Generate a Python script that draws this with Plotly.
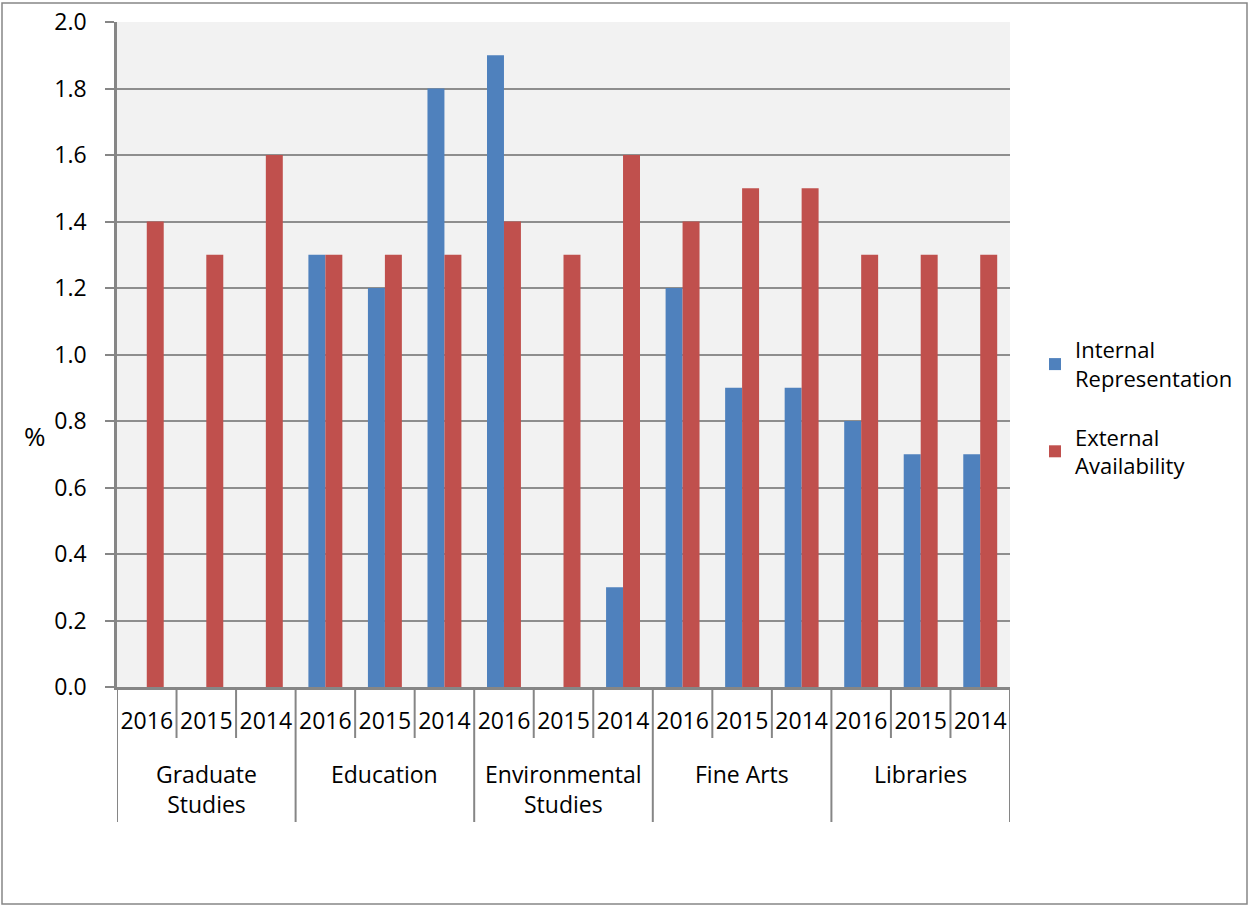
import plotly.graph_objects as go

# Faculties (each spans three years) and the yearly categories inside them
faculties = ["Graduate<br>Studies", "Education", "Environmental<br>Studies", "Fine Arts", "Libraries"]
years = ["2016", "2015", "2014"]

# Percent values, ordered faculty by faculty, 2016 -> 2014
internal_representation = [None, None, None,
                           1.3, 1.2, 1.8,
                           1.9, None, 0.3,
                           1.2, 0.9, 0.9,
                           0.8, 0.7, 0.7]
external_availability = [1.4, 1.3, 1.6,
                         1.3, 1.3, 1.3,
                         1.4, 1.3, 1.6,
                         1.4, 1.5, 1.5,
                         1.3, 1.3, 1.3]

y_ticks = [0.0, 0.2, 0.4, 0.6, 0.8, 1.0, 1.2, 1.4, 1.6, 1.8, 2.0]

BLUE = "#4f81bd"
RED = "#c0504d"
AXIS = "#868686"
FONT = "Open Sans"
FS = 23

W, H = 1250, 907
ML, MR, MT, MB = 117, 240, 22, 220
PW, PH = W - ML - MR, H - MT - MB


def px_x(px):
    return (px - ML) / PW


def px_y(py):
    return (H - MB - py) / PH


n_cat = len(faculties) * len(years)
positions = list(range(n_cat))
year_labels = [y for _ in faculties for y in years]

fig = go.Figure()
fig.add_trace(go.Bar(x=positions, y=internal_representation, name="Internal<br>Representation",
                     marker=dict(color=BLUE, line=dict(width=0)), legendgroup="a"))
fig.add_trace(go.Bar(x=positions, y=external_availability, name="External<br>Availability",
                     marker=dict(color=RED, line=dict(width=0)), legendgroup="b"))

shapes = []
# outer frame of the chart
shapes.append(dict(type="rect", xref="paper", yref="paper",
                   x0=px_x(2), x1=px_x(1247), y0=px_y(904), y1=px_y(3),
                   line=dict(color=AXIS, width=1.5), fillcolor="rgba(0,0,0,0)", layer="below"))
# category dividers below the axis
for k in range(n_cat + 1):
    group_edge = k % len(years) == 0
    shapes.append(dict(type="line", xref="x", yref="paper",
                       x0=k - 0.5, x1=k - 0.5, y0=0, y1=px_y(822 if group_edge else 738),
                       line=dict(color=AXIS, width=2)))

annotations = []
for i, fac in enumerate(faculties):
    annotations.append(dict(x=i * len(years) + 1, xref="x", y=px_y(756), yref="paper",
                            text=fac, showarrow=False, xanchor="center", yanchor="top",
                            font=dict(family=FONT, size=FS, color="black")))
annotations.append(dict(x=px_x(35), xref="paper", y=px_y(436), yref="paper", text="%",
                        showarrow=False, xanchor="center", yanchor="middle",
                        font=dict(family=FONT, size=26, color="black")))

fig.update_layout(
    width=W, height=H,
    margin=dict(l=ML, r=MR, t=MT, b=MB, autoexpand=False),
    paper_bgcolor="white",
    plot_bgcolor="#f2f2f2",
    barmode="group",
    bargap=0.43,
    bargroupgap=0,
    font=dict(family=FONT, size=FS, color="black"),
    showlegend=True,
    legend=dict(x=px_x(1035), y=px_y(329), xanchor="left", yanchor="top",
                font=dict(family=FONT, size=22, color="black"),
                tracegroupgap=27, bgcolor="rgba(0,0,0,0)", itemclick=False),
    shapes=shapes,
    annotations=annotations,
    xaxis=dict(range=[-0.5, n_cat - 0.5], tickvals=positions, ticktext=year_labels,
               showgrid=False, zeroline=False, showline=True, linecolor=AXIS, linewidth=2.5,
               ticks="", ticklabelstandoff=12, tickfont=dict(family=FONT, size=FS, color="black"),
               fixedrange=True),
    yaxis=dict(range=[0, 2.0], tickvals=y_ticks, tickformat=".1f",
               showgrid=True, gridcolor="#8e8e8e", gridwidth=1.5, zeroline=False,
               showline=True, linecolor=AXIS, linewidth=2.5,
               ticks="outside", ticklen=9, tickwidth=1.5, tickcolor=AXIS,
               ticklabelstandoff=14, tickfont=dict(family=FONT, size=FS, color="black"),
               fixedrange=True),
)

fig.write_html("out.html")
